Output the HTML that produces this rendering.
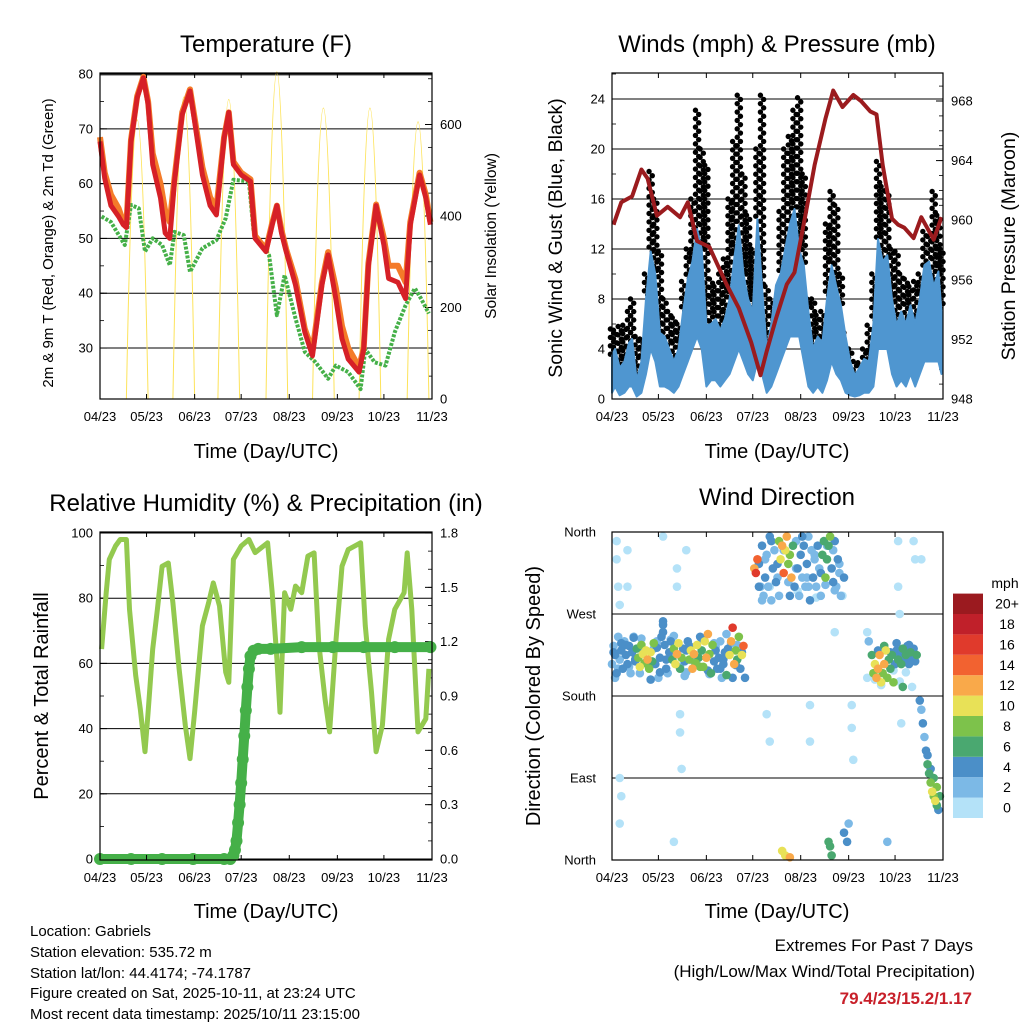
<!DOCTYPE html>
<html><head><meta charset="utf-8"><style>
html,body{margin:0;padding:0;background:#fff;}
svg{display:block;font-family:"Liberation Sans",Arial,sans-serif;}
</style></head><body>
<svg id="root" width="1024" height="1024" viewBox="0 0 1024 1024" xmlns="http://www.w3.org/2000/svg">
<g id="p1"></g>
<g id="p2"></g>
<g id="p3"></g>
<g id="p4"></g>
<text x="266" y="52" font-size="24" text-anchor="middle">Temperature (F)</text>
<text x="777" y="52" font-size="24" text-anchor="middle">Winds (mph) &amp; Pressure (mb)</text>
<text x="266" y="511" font-size="24" text-anchor="middle">Relative Humidity (%) &amp; Precipitation (in)</text>
<text x="777" y="505" font-size="24" text-anchor="middle">Wind Direction</text>
<text x="266" y="458" font-size="20" text-anchor="middle">Time (Day/UTC)</text>
<text x="777" y="458" font-size="20" text-anchor="middle">Time (Day/UTC)</text>
<text x="266" y="918" font-size="20" text-anchor="middle">Time (Day/UTC)</text>
<text x="777" y="918" font-size="20" text-anchor="middle">Time (Day/UTC)</text>
<text transform="translate(53,243) rotate(-90)" font-size="15" text-anchor="middle">2m &amp; 9m T (Red, Orange) &amp; 2m Td (Green)</text>
<text transform="translate(496,236) rotate(-90)" font-size="15.5" text-anchor="middle">Solar Insolation (Yellow)</text>
<text transform="translate(562,238) rotate(-90)" font-size="19.5" text-anchor="middle">Sonic Wind &amp; Gust (Blue, Black)</text>
<text transform="translate(1015,246) rotate(-90)" font-size="19.5" text-anchor="middle">Station Pressure (Maroon)</text>
<text transform="translate(48,696) rotate(-90)" font-size="20" text-anchor="middle">Percent &amp; Total Rainfall</text>
<text transform="translate(540,696) rotate(-90)" font-size="20" text-anchor="middle">Direction (Colored By Speed)</text>
<g font-size="15">
<text x="30" y="936">Location: Gabriels</text>
<text x="30" y="957">Station elevation: 535.72 m</text>
<text x="30" y="978">Station lat/lon: 44.4174; -74.1787</text>
<text x="30" y="998">Figure created on Sat, 2025-10-11, at 23:24 UTC</text>
<text x="30" y="1019">Most recent data timestamp: 2025/10/11 23:15:00</text>
</g>
<text x="973" y="951" font-size="17" text-anchor="end">Extremes For Past 7 Days</text>
<text x="975" y="977" font-size="17" text-anchor="end">(High/Low/Max Wind/Total Precipitation)</text>
<text x="972" y="1004" font-size="17" font-weight="bold" fill="#c8202a" text-anchor="end">79.4/23/15.2/1.17</text>
</svg>
<script>
const X_TICK_DAYS=[0,30,61,91,122,153,183,214];
const X_TICK_LABELS=["04/23","05/23","06/23","07/23","08/23","09/23","10/23","11/23"];
const T_DAY=[0,3,7,12,15,17,20,24,28,31,34,39,42,45,48,53,58,61,66,71,75,80,83,86,91,97,100,107,111,114,117,120,126,132,137,143,147,152,156,160,167,170,173,178,183,186,192,197,200,206,210,213];
const T_RED=[67.7,61,56,54,52.5,52,67.7,75.7,79.3,74.5,63.5,57.4,51,50,60.4,72.6,76.9,71.4,61.6,56,54.3,68.3,73,63.5,61.6,60.4,50,47.6,52.5,56,51,47.6,41.5,32.9,28.6,41.5,47,39,31.7,28,25.6,29.8,45,56,48.8,42.7,42,39,52.5,61.6,57.4,52.5];
const T_ORG=[68.5,62,58,55.5,53,52.5,68,76,79.5,75,65.5,60,55,53,61,73,77.2,72,63,57.5,55.5,68.5,73,64,62,60.8,50.5,48,52.8,56,51.5,48,42.5,33.5,29.5,42,47.5,41,34,30,26.5,30,45.5,56.2,50,45,45,42,53,62,58,53];
const TD_DAY=[1,7,16,20,25,29,34,40,45,48,54,58,66,75,81,86,96,99,109,114,119,126,132,139,147,152,160,168,171,177,184,190,197,203,207,212];
const TD_VAL=[54,53,48.8,56.1,55.5,47.6,50,48.8,45.1,51.2,50.6,43.9,48.2,49.7,53.7,60.7,60.4,51.2,46.9,36,43.3,35.4,29.3,27.4,24.4,26.8,25.6,22.5,29.8,27.4,26.8,32.9,37.8,40.9,39,36.3];
const SOL_DAY=[24,54,83,114,144,174,205];
const SOL_PEAK=[610,660,655,715,636,636,606];
const P_DAY=[1,6,13,19,23,29,36,44,49,55,63,74,82,90,96,100,106,113,118,125,131,138,143,149,156,161,167,171,175,181,185,189,195,200,208,213];
const P_VAL=[959.7,961.2,961.6,963.4,962.8,960.3,960.9,960.2,961.2,958.6,958.2,955.7,954.1,951.8,949.6,951.2,953.4,955.7,956.5,960.3,963.7,966.8,968.7,967.6,968.4,968,967.3,967.1,963.7,960.1,959.7,959.5,958.8,960.2,958.7,960.2];
const W_DAY=[0,2,5,8,11,13,16,19,22,25,28,31,34,37,40,43,46,49,52,55,58,61,64,67,70,73,76,79,82,85,88,91,94,97,100,103,106,109,112,115,118,121,124,127,130,133,136,139,142,145,148,151,154,157,160,163,166,169,172,175,178,181,184,187,190,193,196,199,202,205,208,211,213];
const W_HI=[3.5,4,2.5,3,4.5,4.8,1.5,3,8,11.8,10,5.3,5,4,3,4,7,9.6,11,13.6,12,5.9,6,6.4,5.5,6.4,8,11.2,13.9,10,8,7,14.4,9,4,6,9.1,10,12,14,15.2,12,10.7,7,4,5,4.5,8,10.7,9,7.5,5,3,1.9,2.5,3.2,3,6,12.8,11,11.5,8,5.9,7,6,7.5,6,8,10.7,11,9,10.2,7];
const W_LO=[0.5,1,0.3,0.5,1,1,0.2,0.5,2,4,3,1,1,0.8,0.5,1,2,3,4,5,4,1,1.5,1.5,1,1.5,2,3,4,3,2,1.5,3,2,0.5,1,2,3,4,5,5,5,3,1,0.5,1,0.5,1.5,3,2,1.5,0.5,0.3,0.2,0.3,0.5,0.5,1,4,4,4,2,1,1.5,1,2,1,2,3,3,3,3,2];
const G_HI=[5.6,5.5,5.8,5.9,7,8,5,4.8,10,18.2,16,11.8,8,7,6.5,6,9.4,12,16,23.1,20,18.7,9.6,9,10,11.2,16,20.6,24.3,18,14.7,12,20,24.3,9,8,9,15,20,21,23.1,24.1,18,8,8,6.7,7,14,16.6,15.5,10,5.3,4,3,2.9,4,5.9,10,19,17,16.6,12,11.8,10,9.6,9,9.4,10,13.4,13,16.6,14.7,12];
const RH_DAY=[1,4,6,10,13,17,19,23,26,29,31,34,37,40,44,47,51,55,58,61,66,70,73,77,81,83,86,91,96,100,108,111,114,116,119,123,126,130,134,138,141,145,148,152,156,160,168,171,175,178,182,186,190,196,198,201,205,210,212];
const RH_VAL=[64.4,81.7,91.9,96,98,98,76.6,56.3,46,32.9,45,64.4,76.6,89.8,90.8,78.6,58.3,41,30.8,45,71.5,78.6,84.7,77.6,57.3,54.2,91.9,96,98,94,97,81.7,61.3,45,81.7,76.6,83.7,81.7,92.9,93.9,66.4,49.1,39,66.4,89.8,94.9,97,71.5,51.2,32.9,41,67.4,76.6,81.7,93.9,76.6,39,43,58.3];
const PR_DAY=[0,20,40,60,80,84,86,87,88,89,90,91,92,93,94,95,96,97,99,102,110,130,150,170,190,213];
const PR_VAL=[0,0,0,0,0,0,0.02,0.05,0.1,0.2,0.3,0.42,0.55,0.68,0.82,0.95,1.05,1.12,1.15,1.16,1.16,1.17,1.17,1.17,1.17,1.17];
const WD_DAY=[0,1,2,3,4,5,6,7,8,9,10,11,12,13,14,15,16,17,18,19,20,21,22,23,24,25,26,27,28,29,30,31,32,33,33,33,34,35,36,37,38,39,40,41,42,43,44,45,46,47,48,49,50,51,52,53,54,55,56,57,58,59,60,61,62,63,64,65,66,67,68,69,70,71,72,73,74,75,76,77,78,79,80,81,82,83,84,85,86,
92,93,94,95,96,97,98,99,100,101,102,103,104,105,106,107,108,109,110,111,112,113,114,115,116,117,118,119,120,121,122,123,124,125,126,127,128,129,130,131,132,133,134,135,136,137,138,139,140,141,142,143,144,145,146,147,148,150,
166,168,169,170,171,172,173,174,175,176,177,178,179,180,181,182,183,184,185,186,187,188,189,190,191,192,193,194,195,196,197,
199,200,201,202,203,204,205,206,207,208,209,210,211,212,210,208,206,204,
3,3,4,5,5,6,10,10,33,42,42,44,44,45,48,5,40,100,102,128,128,144,155,155,156,165,165,185,185,186,187,195,196,110,112,115,140,141,142,150,152,153,178,188,200,
2,6,11,14,18,21,25,29,35,40,47,50,55,58,63,66,70,74,78,81,
1,4,9,15,19,24,27,31,38,44,48,53,57,62,67,72,77,80,84,
95,99,103,107,111,115,119,123,127,131,135,139,143,147,
97,102,108,114,120,126,132,138,144,149,
170,174,178,182,186,190,194,
172,176,180,184,188,192];
const WD_DIR=[215,235,225,205,245,220,230,210,240,225,215,235,205,228,245,218,232,222,212,236,226,216,230,220,210,228,218,238,215,233,200,222,245,250,258,262,236,220,205,228,242,220,232,215,226,238,210,222,232,218,206,240,220,230,210,226,216,236,222,212,230,212,240,222,248,226,205,236,218,230,210,222,240,200,215,228,203,232,225,240,255,215,230,220,245,210,225,235,200,
320,315,330,325,300,345,290,310,335,300,355,285,320,340,305,325,350,330,345,315,340,355,325,335,310,345,300,350,320,290,335,310,345,300,325,355,285,340,310,330,300,345,320,290,335,350,310,330,345,355,320,340,350,300,330,315,290,310,
240,225,205,215,200,210,225,195,205,215,230,200,220,210,225,195,215,230,220,225,215,230,220,225,235,215,228,220,232,218,225,
175,165,150,135,120,105,95,85,75,70,65,60,55,70,80,90,100,115,
350,330,300,280,90,70,340,300,355,320,300,160,140,100,340,40,20,160,130,170,130,250,170,145,110,250,200,350,300,270,150,350,330,10,5,3,20,15,5,30,20,40,20,190,330,
200,238,212,244,205,230,198,240,210,246,202,235,214,243,204,238,210,248,200,236,
228,210,236,220,243,214,232,206,240,212,230,218,245,208,234,220,238,214,228,
300,330,350,310,340,290,320,355,300,335,315,345,305,325,
285,300,290,305,295,310,288,302,296,290,
198,192,200,208,196,206,190,
230,235,228,238,232,236];
const WD_SPD=[2,3,4,4,2,3,4,4,3,4,5,4,2,4,2,4,6,8,10,9,11,8,10,12,9,11,7,8,4,4,3,4,4,4,4,4,4,4,3,4,2,6,8,11,13,10,6,8,4,4,3,4,8,10,13,12,9,11,6,8,6,8,10,12,13,9,6,8,4,5,4,4,3,2,5,4,6,4,10,12,16,12,8,6,8,4,10,14,4,
12,16,14,4,2,4,2,4,3,2,4,2,4,3,5,4,8,10,12,14,10,12,8,9,12,6,4,3,5,2,4,3,4,2,4,3,5,2,4,3,2,4,2,3,6,7,8,6,7,8,4,3,5,2,4,3,2,4,
2,6,8,10,12,13,12,10,8,12,10,8,6,7,6,8,5,4,6,4,6,5,4,6,5,4,6,5,4,5,6,
4,2,4,2,4,6,6,8,10,8,10,6,4,6,8,6,4,4,
0,0,0,0,0,0,0,0,0,0,0,0,0,0,0,0,0,0,0,0,0,0,0,0,0,0,0,0,0,0,0,0,0,10,10,12,6,6,6,4,4,3,3,6,0,
2,4,2,4,3,2,4,2,4,3,2,4,2,4,3,2,4,2,4,3,
4,2,5,4,3,4,2,5,4,3,4,2,5,4,3,4,2,5,4,
4,2,4,3,2,4,2,4,3,2,4,2,4,3,
2,1,2,2,1,2,1,2,2,1,
0,0,1,0,1,0,1,
4,6,5,4,6,5];
const SPD_LABELS=["0","2","4","6","8","10","12","14","16","18","20+"];
const SPD_COLORS=["#b4e2f8","#7cb9e6","#4b8fc8","#4aa870","#7dc24b","#e8e157","#f9a94a","#f26230","#e03a2c","#c0202a","#9b1a1f"];

const NS="http://www.w3.org/2000/svg";
function mk(parent,tag,attrs){const e=document.createElementNS(NS,tag);for(const k in attrs)e.setAttribute(k,attrs[k]);parent.appendChild(e);return e;}
const x1=d=>100+d*332/214, x2=d=>612+d*331/214;
const yT=v=>399-(v-20.7)*5.48, ySol=v=>399-v*0.4575;
const yW=v=>399-v*12.5, yP=v=>399-(v-948)*14.9;
const yRH=v=>859-v*3.26, yPr=v=>859-v*181.1;
const yDir=v=>860-v*328/360;
function pts(days,vals,xf,yf){return days.map((d,i)=>xf(d).toFixed(1)+","+yf(vals[i]).toFixed(1)).join(" ");}

function frame(g,x0,y0,x1_,y1_,xf,name){
  const r=mk(g,"rect",{x:x0,y:y0,width:x1_-x0,height:y1_-y0,fill:"none",stroke:"#000","stroke-width":1.2});
  
  
  X_TICK_DAYS.forEach((d,i)=>{
    const x=xf(d);
    mk(g,"line",{x1:x,x2:x,y1:y1_,y2:y1_-5,stroke:"#000"});
    mk(g,"line",{x1:x,x2:x,y1:y0,y2:y0+5,stroke:"#000"});
    const t=mk(g,"text",{x:x,y:y1_+22,"font-size":13,"text-anchor":"middle"});
    t.textContent=X_TICK_LABELS[i];
    
    
  });
}
function yaxis(g,x,y0,y1_,min,max,step,minor,yf,side,fmt,grid){
  for(let v=min;v<=max+1e-9;v+=minor){const y=yf(v);if(y<y0-0.5||y>y1_+0.5)continue;mk(g,"line",{x1:x,x2:x+(side<0?4:-4),y1:y,y2:y,stroke:"#000","stroke-width":0.8});}
  for(let v=min;v<=max+1e-9;v+=step){
    const y=yf(v);if(y<y0-0.5||y>y1_+0.5)continue;
    if(grid)mk(g,"line",{x1:grid[0],x2:grid[1],y1:y,y2:y,stroke:"#000","stroke-width":1});
    mk(g,"line",{x1:x,x2:x+(side<0?7:-7),y1:y,y2:y,stroke:"#000"});
    const t=mk(g,"text",{x:side<0?x-7:x+8,y:y+4.5,"font-size":13,"text-anchor":side<0?"end":"start"});
    t.textContent=fmt(v);
    
    
  }
}

// Panel 1
const g1=document.getElementById("p1");
yaxis(g1,100,73,399,30,80,10,5,yT,-1,v=>String(Math.round(v)),[100,432]);
yaxis(g1,432,73,399,0,700,200,50,ySol,1,v=>String(Math.round(v)),null);
mk(g1,"line",{x1:100,x2:432,y1:75,y2:75,stroke:"#555","stroke-width":1});
SOL_DAY.forEach((d,i)=>{
  const c=x1(d),w=7*332/214,py=ySol(SOL_PEAK[i]),b=ySol(0),cy=b-(b-py)*4/3;
  const p=mk(g1,"path",{d:`M${c-w},${b} C${c-w*0.35},${cy} ${c+w*0.35},${cy} ${c+w},${b}`,fill:"none",stroke:"#fde35a","stroke-width":1});
  
  
});
let e;
e=mk(g1,"polyline",{points:pts(TD_DAY,TD_VAL,x1,yT),fill:"none",stroke:"#45b048","stroke-width":4,"stroke-dasharray":"3 1.5","stroke-linejoin":"round"});


e=mk(g1,"polyline",{points:pts(T_DAY,T_ORG,x1,yT),fill:"none",stroke:"#f47b29","stroke-width":6,"stroke-linejoin":"round"});


e=mk(g1,"polyline",{points:pts(T_DAY,T_RED,x1,yT),fill:"none",stroke:"#d62027","stroke-width":5,"stroke-linejoin":"round"});


frame(g1,100,73,432,399,x1,"temperature");

// Panel 2
const g2=document.getElementById("p2");
yaxis(g2,612,73,399,0,26,4,2,yW,-1,v=>String(Math.round(v)),[612,943]);
yaxis(g2,943,73,399,948,970,4,1,yP,1,v=>String(Math.round(v)),null);
W_DAY.forEach((d,i)=>{
  const top=yW(G_HI[i]),bot=yW(W_HI[i]);
  for(let y=top;y<=bot;y+=4.2){
    const c=mk(g2,"circle",{cx:x2(d)+((Math.round((y-top)/4.2)%2)?1.6:-1.6),cy:y,r:2.7,fill:"#000"});
    
    
  }
});
const windPoly=W_DAY.map((d,i)=>x2(d).toFixed(1)+","+yW(W_HI[i]).toFixed(1)).join(" ")+" "+W_DAY.slice().reverse().map((d,j)=>{const i=W_DAY.length-1-j;return x2(d).toFixed(1)+","+yW(W_LO[i]).toFixed(1);}).join(" ");
e=mk(g2,"polygon",{points:windPoly,fill:"#4f96d0",stroke:"#4f96d0","stroke-width":2,"stroke-linejoin":"round"});


e=mk(g2,"polyline",{points:pts(P_DAY,P_VAL,x2,yP),fill:"none",stroke:"#9b1b1e","stroke-width":4,"stroke-linejoin":"round"});


frame(g2,612,73,943,399,x2,"winds");

// Panel 3
const g3=document.getElementById("p3");
yaxis(g3,100,532,860,0,100,20,10,yRH,-1,v=>String(Math.round(v)),[100,432]);
yaxis(g3,432,532,860,0,1.8,0.3,0.1,yPr,1,v=>v.toFixed(1),null);
e=mk(g3,"polyline",{points:pts(RH_DAY,RH_VAL,x1,yRH),fill:"none",stroke:"#93c94f","stroke-width":5,"stroke-linejoin":"round"});


e=mk(g3,"polyline",{points:pts(PR_DAY,PR_VAL,x1,yPr),fill:"none",stroke:"#45b048","stroke-width":10,"stroke-linejoin":"round","stroke-linecap":"round"});


PR_DAY.forEach((d,i)=>{
  const c=mk(g3,"circle",{cx:x1(d),cy:yPr(PR_VAL[i]),r:6,fill:"#45b048"});
  
  
});
frame(g3,100,532,432,860,x1,"humidity");

// Panel 4
const g4=document.getElementById("p4");
const DIR_LABELS=["North","East","South","West","North"];
[0,90,180,270,360].forEach((v,i)=>{
  const y=yDir(v);
  mk(g4,"line",{x1:612,x2:943,y1:y,y2:y,stroke:"#000"});
  const t=mk(g4,"text",{x:596,y:y+4.5,"font-size":13,"text-anchor":"end"});
  t.textContent=DIR_LABELS[i];
  
  
});
const order=WD_DAY.map((d,i)=>i).sort((a,b)=>WD_SPD[a]-WD_SPD[b]);
order.forEach(i=>{
  const idx=Math.min(10,Math.floor(WD_SPD[i]/2));
  const c=mk(g4,"circle",{cx:x2(WD_DAY[i]),cy:yDir(WD_DIR[i]),r:4.3,fill:SPD_COLORS[idx]});
  
  
});
frame(g4,612,532,943,860,x2,"wind-direction");
const lt=mk(g4,"text",{x:1005,y:588,"font-size":14,"text-anchor":"middle"});
lt.textContent="mph";


SPD_LABELS.forEach((lab,i)=>{
  const y=818-(i+1)*20.4;
  const r=mk(g4,"rect",{x:953,y:y,width:30,height:20.4,fill:SPD_COLORS[i]});
  
  
  const t=mk(g4,"text",{x:1007,y:y+15,"font-size":14,"text-anchor":"middle"});
  t.textContent=lab;
  
  
});
</script>
</body></html>
